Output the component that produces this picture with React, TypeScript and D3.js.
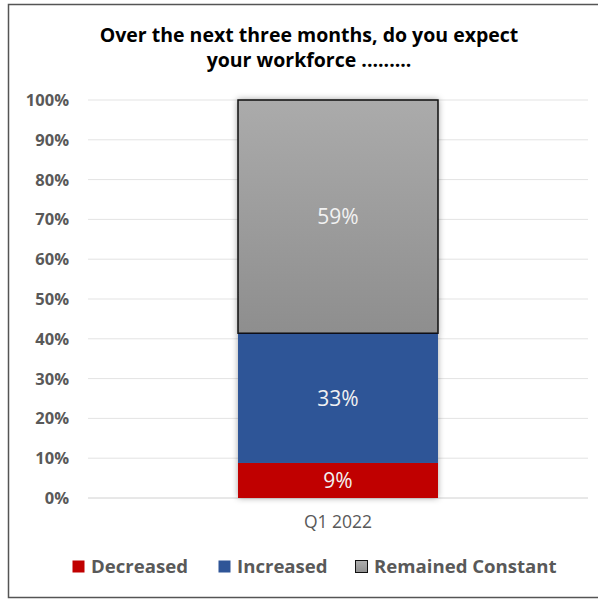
import React from "react";
import * as d3 from "d3";

const categories = ["Q1 2022"];
const seriesNames = ["Decreased", "Increased", "Remained Constant"];
const decreased = [8.8];
const increased = [32.6];
const remainedConstant = [58.6];
const yTicks = [0, 10, 20, 30, 40, 50, 60, 70, 80, 90, 100];
const titleLines = ["Over the next three months, do you expect", "your workforce ........."];

const colors: Record<string, string> = {
  "Decreased": "#C00000",
  "Increased": "#2F5597",
  "Remained Constant": "url(#grayGrad)",
};

const W = 598, H = 599;
const margin = { top: 100, right: 10, bottom: 101, left: 88 };
const FONT = "'Open Sans', sans-serif";

const App = () => {
  const x = d3.scaleBand<string>().domain(categories).range([margin.left, W - margin.right]).padding(0.4286);
  const y = d3.scaleLinear().domain([0, 100]).range([H - margin.bottom, margin.top]);

  const rows = categories.map((c, i) => ({
    cat: c,
    "Decreased": decreased[i],
    "Increased": increased[i],
    "Remained Constant": remainedConstant[i],
  }));
  const stacked = d3.stack<any>().keys(seriesNames)(rows);
  const fmt = (v: number) => d3.format(".0f")(v) + "%";

  // legend item positions
  const legendX = [72, 218, 355];

  return (
    <svg width={W} height={H} style={{ position: "absolute", left: 0, top: 0 }} fontFamily={FONT}>
      <defs>
        <linearGradient id="grayGrad" x1="0" y1="0" x2="0" y2="1">
          <stop offset="0%" stopColor="#ababab" />
          <stop offset="100%" stopColor="#8e8e8e" />
        </linearGradient>
        <linearGradient id="grayLegend" x1="0" y1="0" x2="0" y2="1">
          <stop offset="0%" stopColor="#b0b0b0" />
          <stop offset="100%" stopColor="#909090" />
        </linearGradient>
        <filter id="shadow" x="-10%" y="-10%" width="120%" height="120%">
          <feDropShadow dx="0" dy="0" stdDeviation="3" floodColor="#000" floodOpacity="0.35" />
        </filter>
      </defs>
      <rect x={8.5} y={4.5} width={620} height={593} fill="#fff" stroke="#555" strokeWidth={1.5} />

      {titleLines.map((t, i) => (
        <text key={i} x={309} y={42 + i * 25} textAnchor="middle" fontWeight="bold" fontSize={19.5} fill="#000">{t}</text>
      ))}

      {yTicks.map((t) => (
        <g key={t}>
          <line x1={margin.left} x2={W - margin.right} y1={y(t)} y2={y(t)} stroke={t === 0 ? "#d0d0d0" : "#e3e3e3"} strokeWidth={1} />
          <text x={69} y={y(t)} dy="0.36em" textAnchor="end" fontWeight="bold" fontSize={16.5} fill="#595959">{t}%</text>
        </g>
      ))}

      <g filter="url(#shadow)">
        {stacked.map((s) => s.map((d, i) => (
          <rect key={s.key + i} x={x(categories[i])} y={y(d[1])} width={x.bandwidth()} height={y(d[0]) - y(Math.min(d[1], 100))}
            fill={colors[s.key]} stroke={s.key === "Remained Constant" ? "#111" : "none"} strokeWidth={1.5} />
        )))}
      </g>

      {stacked.map((s) => s.map((d, i) => (
        <text key={"l" + s.key + i} x={x(categories[i])! + x.bandwidth() / 2} y={y((d[0] + Math.min(d[1], 100)) / 2)} dy="0.36em"
          textAnchor="middle" fontSize={21} fill="#f2f2f2">{fmt(d[1] - d[0])}</text>
      )))}

      {categories.map((c) => (
        <text key={c} x={x(c)! + x.bandwidth() / 2} y={528} textAnchor="middle" fontSize={17.5} fill="#595959">{c}</text>
      ))}

      {seriesNames.map((n, i) => (
        <g key={n} transform={`translate(${legendX[i]},560)`}>
          <rect x={0.5} y={0.5} width={12} height={12} fill={n === "Remained Constant" ? "url(#grayLegend)" : colors[n]} stroke={n === "Remained Constant" ? "#111" : "none"} />
          <text x={19} y={6.5} dy="0.36em" fontWeight="bold" fontSize={18.6} fill="#595959">{n}</text>
        </g>
      ))}
    </svg>
  );
};

export default App;
